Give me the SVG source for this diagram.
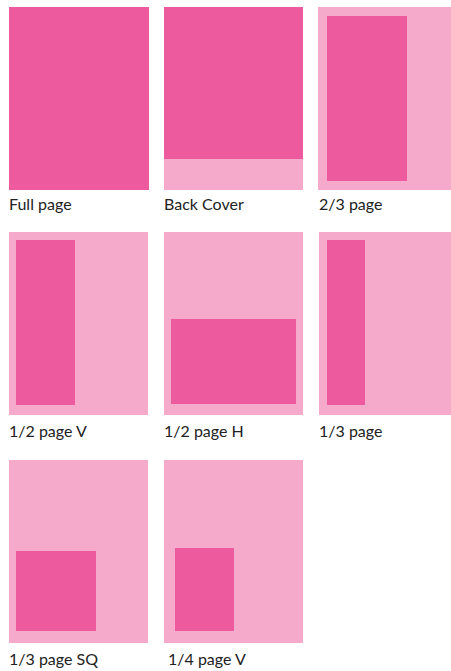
<svg xmlns="http://www.w3.org/2000/svg" width="451" height="671" viewBox="0 0 451 671">
<style>
.bg{fill:#F5A9CB}
.ad{fill:#EE5A9E}
.lb{font-family:Lato,"Open Sans","Liberation Sans",sans-serif;font-size:16px;fill:#222}
</style>
<rect width="451" height="671" fill="#fff"/>
<g id="full-page">
<rect class="ad" x="9" y="7" width="140" height="183"/>
<text class="lb" x="9" y="210">Full page</text>
</g>
<g id="back-cover">
<rect class="bg" x="164" y="7" width="139" height="183"/>
<rect class="ad" x="164" y="7" width="139" height="152"/>
<text class="lb" x="164" y="210">Back Cover</text>
</g>
<g id="two-thirds-page">
<rect class="bg" x="318" y="7" width="139" height="183"/>
<rect class="ad" x="327" y="16" width="80" height="165"/>
<text class="lb" x="319" y="210">2/3 page</text>
</g>
<g id="half-page-v">
<rect class="bg" x="9" y="232" width="139" height="183"/>
<rect class="ad" x="16" y="240" width="59" height="165"/>
<text class="lb" x="9" y="437">1/2 page V</text>
</g>
<g id="half-page-h">
<rect class="bg" x="164" y="232" width="139" height="183"/>
<rect class="ad" x="171" y="319" width="125" height="85"/>
<text class="lb" x="164" y="437">1/2 page H</text>
</g>
<g id="third-page">
<rect class="bg" x="319" y="232" width="138" height="183"/>
<rect class="ad" x="327" y="240" width="38" height="165"/>
<text class="lb" x="319" y="437">1/3 page</text>
</g>
<g id="third-page-sq">
<rect class="bg" x="9" y="460" width="139" height="183"/>
<rect class="ad" x="16" y="551" width="80" height="80"/>
<text class="lb" x="9" y="665">1/3 page SQ</text>
</g>
<g id="quarter-page-v">
<rect class="bg" x="164" y="460" width="139" height="183"/>
<rect class="ad" x="175" y="548" width="59" height="83"/>
<text class="lb" x="168" y="665">1/4 page V</text>
</g>
<g id="connectors"/>
</svg>
